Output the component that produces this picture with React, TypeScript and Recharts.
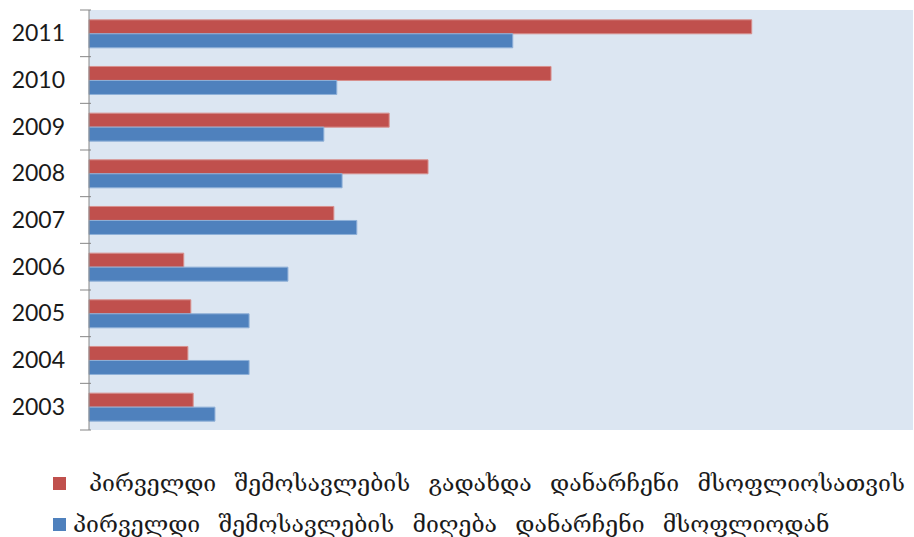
import { BarChart, Bar, XAxis, YAxis, CartesianGrid } from 'recharts'

// Primary income flows, 2003–2011
const years = ['2003', '2004', '2005', '2006', '2007', '2008', '2009', '2010', '2011']
const paidAbroad = [177, 168, 173, 161, 416, 576, 510, 785, 1126]
const receivedFromAbroad = [214, 272, 272, 338, 455, 430, 399, 421, 720]

const PAID_LABEL = 'პირველდი შემოსავლების გადახდა დანარჩენი მსოფლიოსათვის'
const RECEIVED_LABEL = 'პირველდი შემოსავლების მიღება დანარჩენი მსოფლიოდან'

const RED = '#c0504d'
const BLUE = '#4f81bd'

const W = 914
const H = 537
const MARGIN = { top: 10, right: 1, bottom: 107, left: 0 }
const BAND = (H - MARGIN.top - MARGIN.bottom) / years.length

// newest year on top
const data = years
  .map((year, i) => ({ year, paid: paidAbroad[i], received: receivedFromAbroad[i] }))
  .reverse()

// year label plus a tick mark on the band boundary above it (and below the last one)
function YearTick({ x, y, payload, index }: any) {
  const last = index === years.length - 1
  return (
    <g>
      <line x1={x + 22} x2={x + 33} y1={y - BAND / 2} y2={y - BAND / 2} stroke="#868686" />
      {last && (
        <line x1={x + 22} x2={x + 33} y1={y + BAND / 2} y2={y + BAND / 2} stroke="#868686" />
      )}
      <text x={x + 7} y={y} dy={8} textAnchor="end" fontSize={23} fill="#1a1a1a"
        fontFamily="Lato, 'Open Sans', sans-serif">
        {payload.value}
      </text>
    </g>
  )
}

function LegendRow({ color, label, top, textLeft }: { color: string; label: string; top: number; textLeft: number }) {
  return (
    <div style={{ position: 'absolute', left: 0, top, height: 20, width: W }}>
      <span style={{ position: 'absolute', left: 53, top: 1, width: 13, height: 13, background: color }} />
      <span style={{
        position: 'absolute', left: textLeft, top: -3, whiteSpace: 'nowrap', lineHeight: '20px',
        fontFamily: "'DejaVu Serif', serif", fontSize: 23, wordSpacing: 11, color: '#1a1a1a',
      }}>
        {label}
      </span>
    </div>
  )
}

export default function App() {
  return (
    <div style={{ position: 'absolute', left: 0, top: 0, width: W, height: H, background: '#fff', overflow: 'hidden' }}>
      <BarChart
        width={W}
        height={H}
        data={data}
        layout="vertical"
        margin={MARGIN}
        barCategoryGap="21%"
        barGap={0}
      >
        <CartesianGrid fill="#dce6f2" horizontal={false} vertical={false} />
        <XAxis type="number" domain={[0, 1400]} hide />
        <YAxis
          type="category"
          dataKey="year"
          width={89}
          axisLine={{ stroke: '#868686' }}
          tickLine={false}
          tick={<YearTick />}
          tickMargin={25}
          interval={0}
        />
        <Bar dataKey="paid" name={PAID_LABEL} fill={RED} stroke="#d8908e" strokeWidth={1} isAnimationActive={false} />
        <Bar dataKey="received" name={RECEIVED_LABEL} fill={BLUE} stroke="#8fb0d8" strokeWidth={1} isAnimationActive={false} />
      </BarChart>
      <LegendRow color={RED} label={PAID_LABEL} top={476} textLeft={89} />
      <LegendRow color={BLUE} label={RECEIVED_LABEL} top={517} textLeft={73} />
    </div>
  )
}
